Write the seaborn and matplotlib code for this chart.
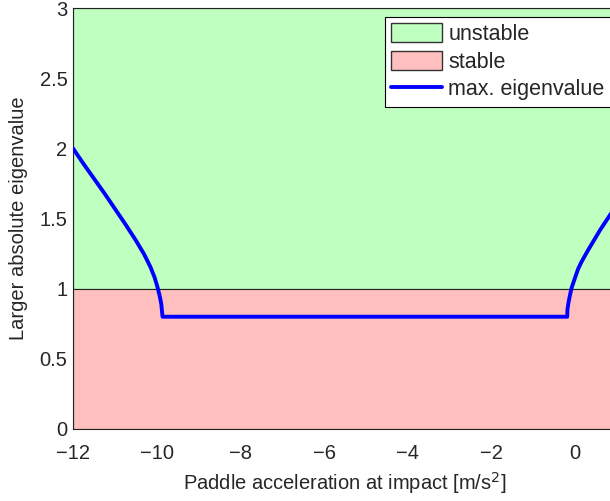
import matplotlib
matplotlib.use("Agg")
import matplotlib.pyplot as plt
import matplotlib.patches as mpatches
import seaborn as sns
import pandas as pd

# max. eigenvalue curve
accel = [-12.0, -11.75, -11.5, -11.25, -11.0, -10.75, -10.5, -10.3, -10.15,
         -10.05, -9.98, -9.93, -9.89, -9.86,
         -0.19, -0.185, -0.16, -0.12, -0.08, 0.0, 0.07, 0.15, 0.3, 0.45,
         0.6, 0.8, 1.0]
eig_max = [2.0, 1.89, 1.785, 1.68, 1.57, 1.46, 1.345, 1.245, 1.155,
           1.08, 1.01, 0.95, 0.89, 0.8,
           0.8, 0.85, 0.9, 0.96, 1.01, 1.08, 1.14, 1.19, 1.27, 1.345,
           1.42, 1.51, 1.6]

stable_lim = 1.0
y_top = 3.0
x_ticks = [-12, -10, -8, -6, -4, -2, 0]
y_ticks = [0, 0.5, 1, 1.5, 2, 2.5, 3]
y_ticklabels = ['0', '0.5', '1', '1.5', '2', '2.5', '3']

sns.set_style("white")
plt.rcParams['font.family'] = ['Liberation Sans', 'DejaVu Sans']
plt.rcParams['axes.unicode_minus'] = True
fs = 14.5

fig = plt.figure(figsize=(6.1, 5.01), dpi=100)
ax = fig.add_axes([73/610, 72/501, 544/610, 421/501])

green = '#bfffbf'
pink = '#ffbfbf'
ax.axhspan(stable_lim, y_top, facecolor=green, edgecolor='#222222', lw=0.8, zorder=1)
ax.axhspan(0, stable_lim, facecolor=pink, edgecolor='#222222', lw=0.8, zorder=1)

df = pd.DataFrame({'x': accel, 'y': eig_max})
sns.lineplot(data=df, x='x', y='y', sort=False, estimator=None, color='#0000ff',
             lw=2.8, ax=ax, zorder=3)

ax.set_xlim(-12, 1)
ax.set_ylim(0, y_top)
ax.set_xticks(x_ticks)
ax.set_yticks(y_ticks)
ax.set_yticklabels(y_ticklabels)
ax.tick_params(length=0, labelsize=fs)
ax.tick_params(axis='x', pad=11)
ax.tick_params(axis='y', pad=4)
for s in ax.spines.values():
    s.set_color('#222222')
    s.set_linewidth(0.8)

ax.set_xlabel('Paddle acceleration at impact [m/s$^2$]', fontsize=fs, labelpad=5)
ax.set_ylabel('Larger absolute eigenvalue', fontsize=fs, labelpad=8)

handles = [mpatches.Patch(facecolor=green, edgecolor='#333333', label='unstable'),
           mpatches.Patch(facecolor=pink, edgecolor='#333333', label='stable'),
           plt.Line2D([], [], color='#0000ff', lw=2.8, label='max. eigenvalue')]
leg = ax.legend(handles=handles, loc='upper left', bbox_to_anchor=(0.5735, 0.979),
                borderaxespad=0, fontsize=15.5, frameon=True, fancybox=False,
                edgecolor='black', framealpha=1, handlelength=2.35, handleheight=0.95,
                handletextpad=0.3, borderpad=0.3, labelspacing=0.28)
leg.get_frame().set_linewidth(0.8)

fig.savefig('out.png', dpi=100)
